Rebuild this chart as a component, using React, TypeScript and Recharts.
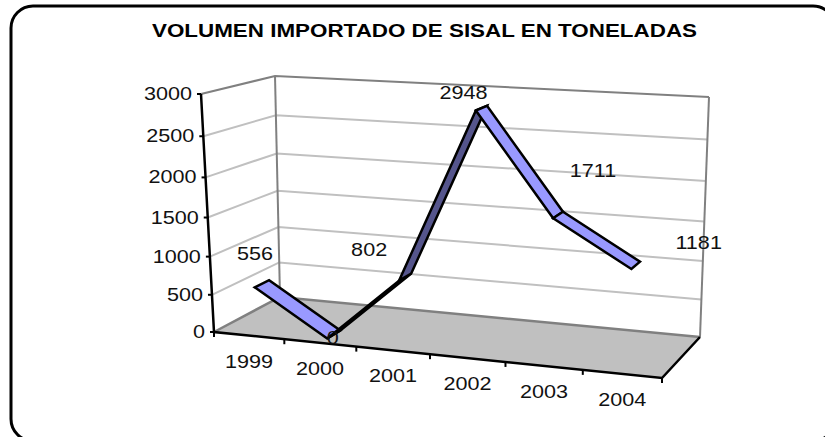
import React from "react";
import {
  LineChart,
  Line,
  XAxis,
  YAxis,
  CartesianGrid,
} from "recharts";

const years = ["1999", "2000", "2001", "2002", "2003", "2004"];
const tonnes = [556, 0, 802, 2948, 1711, 1181];
const valueTicks = [0, 500, 1000, 1500, 2000, 2500, 3000];

const data = years.map((year, i) => ({ year, tonnes: tonnes[i] }));

const TITLE = "VOLUMEN IMPORTADO DE SISAL EN TONELADAS";
const FONT = "'Liberation Sans', Arial, sans-serif";
const MAX_VALUE = 3000;

// hidden 2d plot box, everything gets projected out of it
const PLOT = { left: 40, top: 40, width: 600, height: 300 };

// corners of the 3d box as they land on the page
const FRONT_BOTTOM_L = [214, 332];
const FRONT_BOTTOM_R = [662, 378];
const BACK_BOTTOM_L = [280, 297];
const BACK_BOTTOM_R = [700, 337];
const FRONT_TOP_L = [201, 94];
const FRONT_TOP_R = [676, 120];
const BACK_TOP_L = [275, 76];
const BACK_TOP_R = [709, 97];

const RIBBON_FRONT = 0.12;
const RIBBON_BACK = 0.34;

// hand placed data labels, relative to the ribbon centre
const labelOffsets = [
  [-7, -30],
  [-1, 3],
  [-36, -27],
  [-18, -15],
  [35, -44],
  [63, -22],
];

const mix = (a: number[], b: number[], t: number) => [
  a[0] + (b[0] - a[0]) * t,
  a[1] + (b[1] - a[1]) * t,
];

// u along the categories, w into the depth, v up the value axis (all 0..1)
function project(u: number, w: number, v: number) {
  const t = u / (u + 1.074 * (1 - u));
  const bottom = mix(mix(FRONT_BOTTOM_L, FRONT_BOTTOM_R, t), mix(BACK_BOTTOM_L, BACK_BOTTOM_R, t), w);
  const top = mix(mix(FRONT_TOP_L, FRONT_TOP_R, t), mix(BACK_TOP_L, BACK_TOP_R, t), w);
  return mix(bottom, top, v);
}

// the value axis and the walls are slightly foreshortened towards the floor
const wallV = (v: number) => v / (v + 1.079 * (1 - v));

const toU = (x: number) => (x - PLOT.left) / PLOT.width;
const toV = (y: number) => (PLOT.top + PLOT.height - y) / PLOT.height;
const pts = (list: number[][]) => list.map((p) => p.join(",")).join(" ");

function WideText({ x, y, anchor = "middle", children }: any) {
  return (
    <text
      transform={`translate(${x} ${y}) scale(1.2 1)`}
      textAnchor={anchor}
      fontFamily={FONT}
      fontSize={18}
      fill="#111"
    >
      {children}
    </text>
  );
}

function renderGridLine(props: any) {
  const v = toV(props.y1);
  const edge = v > 0.99;
  if (v < 0.01) return <g key={props.key} />;
  const h = wallV(v);
  return (
    <polyline
      key={props.key}
      points={pts([project(0, 0, h), project(0, 1, h), project(1, 1, h)])}
      fill="none"
      stroke={edge ? "#808080" : "#c0c0c0"}
      strokeWidth={2}
    />
  );
}

function renderYTick(props: any) {
  const v = toV(props.y);
  const [x, y] = project(0, 0, wallV(v));
  return (
    <g>
      <line x1={x - 4} y1={y} x2={x} y2={y} stroke="#000" strokeWidth={2} />
      <WideText x={x - 9} y={y + 6} anchor="end">
        {props.payload.value}
      </WideText>
    </g>
  );
}

function renderXTick(props: any) {
  const u = toU(props.x);
  const [x, y] = project(u, 0, 0);
  const band = 1 / years.length;
  const marks = [u + band / 2];
  if (props.index === 0) marks.push(0);
  return (
    <g>
      {marks.map((m) => {
        const p = project(m, 0, 0);
        return <line key={m} x1={p[0]} y1={p[1]} x2={p[0]} y2={p[1] + 5} stroke="#000" strokeWidth={2} />;
      })}
      <WideText x={x} y={y + 32}>
        {props.payload.value}
      </WideText>
    </g>
  );
}

// each dot draws the ribbon piece running to the next point
function renderRibbon(props: any) {
  const { index, points, key } = props;
  const next = points && points[index + 1];
  if (!next) return <g key={key ?? index} />;
  const cur = points[index];
  const a = project(toU(cur.x), RIBBON_FRONT, toV(cur.y));
  const b = project(toU(cur.x), RIBBON_BACK, toV(cur.y));
  const c = project(toU(next.x), RIBBON_BACK, toV(next.y));
  const d = project(toU(next.x), RIBBON_FRONT, toV(next.y));
  const area =
    (c[0] - a[0]) * (d[1] - b[1]) - (c[1] - a[1]) * (d[0] - b[0]);
  return (
    <polygon
      key={key ?? index}
      points={pts([a, b, c, d])}
      fill={area > 0 ? "#9999ff" : "#55558c"}
      stroke="#000"
      strokeWidth={2.5}
      strokeLinejoin="miter"
    />
  );
}

function renderValueLabel(props: any) {
  const { x, y, value, index } = props;
  const [px, py] = project(toU(x), (RIBBON_FRONT + RIBBON_BACK) / 2, toV(y));
  const [dx, dy] = labelOffsets[index];
  return (
    <WideText key={index} x={px + dx} y={py + dy + 6}>
      {value}
    </WideText>
  );
}

export default function App() {
  return (
    <div style={{ position: "absolute", left: 0, top: 0 }}>
      <LineChart
        width={825}
        height={437}
        data={data}
        margin={{ top: PLOT.top, left: 0, right: 185, bottom: 67 }}
      >
        <rect x={11} y={6} width={824} height={435} rx={22} fill="none" stroke="#000" strokeWidth={3} />
        <text
          x={152}
          y={36.5}
          textLength={545}
          lengthAdjust="spacingAndGlyphs"
          fontFamily={FONT}
          fontSize={18}
          fontWeight="bold"
        >
          {TITLE}
        </text>
        <polygon
          points={pts([FRONT_BOTTOM_L, BACK_BOTTOM_L, BACK_BOTTOM_R, FRONT_BOTTOM_R])}
          fill="#c0c0c0"
        />
        <polyline
          points={pts([FRONT_BOTTOM_L, BACK_BOTTOM_L, BACK_BOTTOM_R])}
          fill="none"
          stroke="#808080"
          strokeWidth={2.5}
        />
        <line x1={BACK_BOTTOM_L[0]} y1={BACK_BOTTOM_L[1]} x2={BACK_TOP_L[0]} y2={BACK_TOP_L[1]} stroke="#808080" strokeWidth={2} />
        <line x1={BACK_BOTTOM_R[0]} y1={BACK_BOTTOM_R[1]} x2={BACK_TOP_R[0]} y2={BACK_TOP_R[1]} stroke="#808080" strokeWidth={2} />
        <CartesianGrid vertical={false} horizontal={renderGridLine} />
        <polyline
          points={pts([FRONT_TOP_L, FRONT_BOTTOM_L, FRONT_BOTTOM_R, BACK_BOTTOM_R])}
          fill="none"
          stroke="#000"
          strokeWidth={2.5}
        />
        <XAxis
          dataKey="year"
          height={30}
          padding={{ left: PLOT.width / 12, right: PLOT.width / 12 }}
          axisLine={false}
          tickLine={false}
          interval={0}
          tick={renderXTick}
        />
        <YAxis
          width={PLOT.left}
          domain={[0, MAX_VALUE]}
          ticks={valueTicks}
          axisLine={false}
          tickLine={false}
          interval={0}
          tick={renderYTick}
        />
        <Line
          dataKey="tonnes"
          stroke="none"
          isAnimationActive={false}
          dot={renderRibbon}
          activeDot={false}
          label={renderValueLabel}
        />
      </LineChart>
    </div>
  );
}
